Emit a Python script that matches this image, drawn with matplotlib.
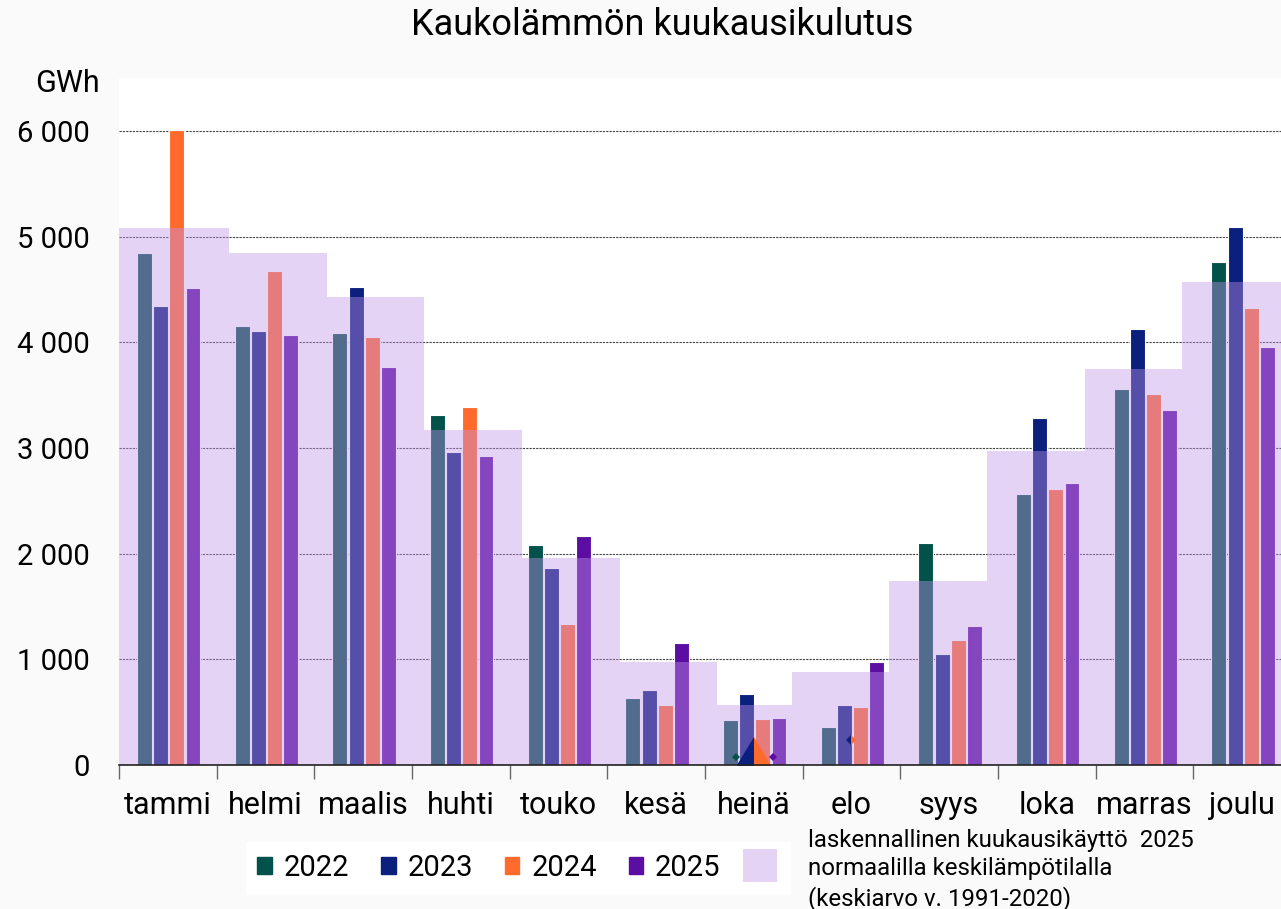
import numpy as np
import matplotlib
matplotlib.use('Agg')
import matplotlib.pyplot as plt
from matplotlib.patches import Rectangle, Patch
from matplotlib.legend_handler import HandlerPatch

plt.rcParams['font.family'] = ['Roboto', 'DejaVu Sans']

months = ['tammi', 'helmi', 'maalis', 'huhti', 'touko', 'kesä',
          'heinä', 'elo', 'syys', 'loka', 'marras', 'joulu']
years = ['2022', '2023', '2024', '2025']

# GWh per month
v2022 = [4840, 4155, 4085, 3312, 2085, 634, 426, 357, 2098, 2565, 3555, 4757]
v2023 = [4344, 4107, 4520, 2965, 1861, 713, 672, 568, 1050, 3287, 4123, 5091]
v2024 = [6010, 4672, 4047, 3388, 1334, 571, 438, 546, 1183, 2612, 3508, 4322]
v2025 = [4511, 4069, 3764, 2924, 2167, 1157, 448, 978, 1312, 2669, 3357, 3953]
# laskennallinen kuukausikäyttö normaalilla keskilämpötilalla
normal = [5085, 4842, 4432, 3170, 1962, 972, 571, 880, 1741, 2971, 3748, 4574]

colors = ['#03514b', '#0b1f7c', '#ff6a2d', '#5b0ea1']
lav = '#c294eb'
lav_alpha = 0.41

fig = plt.figure(figsize=(12.81, 9.09), dpi=100, facecolor='#fafafa')
ax = fig.add_axes([119 / 1281, 1 - 765 / 909, 1172 / 1281, (765 - 78) / 909])
ax.set_facecolor('white')

x = np.arange(len(months)) + 0.5
pitch = 0.165
series = [v2022, v2023, v2024, v2025]
for k, vals in enumerate(series):
    ax.bar(x + (k - 1.5) * pitch + 0.01, vals, width=pitch - 0.012,
           color=colors[k], edgecolor='white', linewidth=0.8, zorder=3)

# the normal-temperature steps are slightly shifted against the month grid
edges = np.array([0, 1.126, 2.129, 3.122, 4.125, 5.128, 6.121,
                  6.889, 7.881, 8.884, 9.887, 10.880, 12.0])
ax.bar(edges[:-1], normal, width=np.diff(edges), align='edge',
       color=lav, alpha=lav_alpha, linewidth=0, zorder=4)

# stray marker glyphs seen in the original
ax.plot([6.5], [0], marker='d', ms=28.5, fillstyle='left',
        markerfacecolor=colors[1], markerfacecoloralt=colors[2],
        markeredgewidth=0, linestyle='none', zorder=5, clip_on=True)
ax.plot([6.315], [76], marker='D', ms=4, color=colors[0], mew=0, zorder=5)
ax.plot([6.694], [76], marker='D', ms=4, color=colors[3], mew=0, zorder=5)
ax.plot([7.5], [237], marker='D', ms=5, fillstyle='left',
        markerfacecolor=colors[1], markerfacecoloralt=colors[2], mew=0, zorder=5)

ax.set_xlim(0, 12)
ax.set_ylim(0, 6500)
ax.set_yticks([0, 1000, 2000, 3000, 4000, 5000, 6000])
ax.set_yticklabels(['0', '1 000', '2 000', '3 000', '4 000', '5 000', '6 000'],
                   fontsize=21)
ax.tick_params(axis='y', length=0, pad=21)
ax.yaxis.grid(True, color='#444444', linestyle=(0, (2, 1)), linewidth=0.8, zorder=1)
ax.set_axisbelow(True)

ax.set_xticks(np.arange(13))
ax.set_xticklabels([])
ax.set_xticks(x, minor=True)
ax.set_xticklabels(months, minor=True, fontsize=22)
ax.tick_params(axis='x', which='major', length=10, width=1, color='#666666')
ax.tick_params(axis='x', which='minor', length=0, pad=19)

for s in ['left', 'right', 'top']:
    ax.spines[s].set_visible(False)
ax.spines['bottom'].set_color('#222222')
ax.spines['bottom'].set_linewidth(1.2)
ax.spines['bottom'].set_zorder(6)

fig.text(662 / 1281, 1 - 25 / 909, 'Kaukolämmön kuukausikulutus',
         ha='center', va='center', fontsize=26)
fig.text(67 / 1281, 1 - 83 / 909, 'GWh', ha='center', va='center', fontsize=22)


def big_square(legend, orig_handle, xdescent, ydescent, width, height, fontsize):
    s = 24
    return Rectangle((-xdescent + width / 2 - s / 2, -ydescent + height / 2 - s / 2),
                     s, s)


handles = [Patch(color=c) for c in colors]
lav_handle = Patch(facecolor=lav, alpha=lav_alpha, linewidth=0)
leg = fig.legend(handles + [lav_handle], years + [''], loc='center',
                 bbox_to_anchor=(518 / 1281, 1 - 868 / 909), ncol=5,
                 fontsize=21, frameon=True, fancybox=False, framealpha=1,
                 edgecolor='white', facecolor='white',
                 handlelength=0.5, handleheight=0.55, handletextpad=0.4,
                 columnspacing=1.1, borderpad=0.4,
                 handler_map={lav_handle: HandlerPatch(patch_func=big_square)})

fig.text(808 / 1281, 1 - 870 / 909,
         'laskennallinen kuukausikäyttö  2025\nnormaalilla keskilämpötilalla\n(keskiarvo v. 1991-2020)',
         ha='left', va='center', fontsize=17.3, linespacing=1.3)

fig.savefig('out.png', dpi=100, facecolor=fig.get_facecolor())
